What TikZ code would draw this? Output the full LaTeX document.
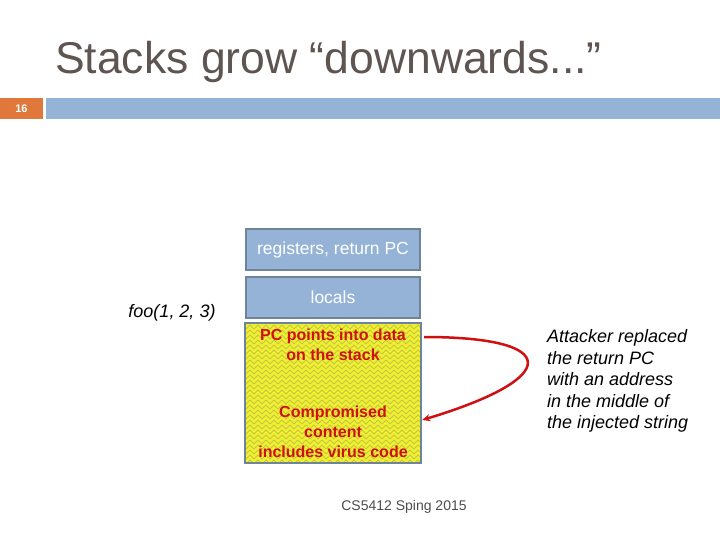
\documentclass[tikz,border=0pt]{standalone}
\usepackage{fontspec}
\setmainfont{Liberation Sans}
\usetikzlibrary{positioning,decorations.pathmorphing,arrows.meta}
\definecolor{slideblue}{HTML}{95B3D7}
\definecolor{boxedge}{HTML}{6E8499}
\definecolor{tagorange}{HTML}{E0783C}
\definecolor{stackyellow}{HTML}{EEF030}
\definecolor{zigline}{HTML}{C6C640}
\definecolor{hackred}{HTML}{D01010}
\definecolor{titlegray}{HTML}{5E5550}
\tikzset{
  frame/.style={draw=boxedge, line width=2.5pt, fill=slideblue, minimum width=174pt, text=white, font=\fontsize{17.5}{20}\selectfont, inner sep=0pt},
  redtxt/.style={text=hackred, font=\bfseries\fontsize{16}{20}\selectfont, align=center},
  note/.style={font=\itshape\fontsize{18}{21.5}\selectfont, align=left}
}
\begin{document}
\begin{tikzpicture}[x=1pt,y=-1pt]
\useasboundingbox (0,0) rectangle (720,540);
\node[anchor=base west, font=\fontsize{44.5}{50}\selectfont, text=titlegray, inner sep=0pt] (title) at (55,74) {Stacks grow “downwards...”};
\fill[tagorange] (0,98) rectangle (43,119);
\node[text=white, font=\bfseries\fontsize{11}{12}\selectfont] (num) at (21.5,108.5) {16};
\fill[slideblue] (46,98) rectangle (720,119);
% the stack frames
\node[frame, minimum height=41pt] (regs) at (333,249.5) {registers, return PC};
\node[frame, minimum height=41pt] (locals) at (333,297.5) {locals};
\begin{scope}
  \clip (245,323) rectangle (421,463);
  \fill[stackyellow] (245,323) rectangle (421,463);
  \foreach \yy in {322,327,...,467}
    \draw[zigline, line width=0.9pt, decorate, decoration={zigzag, segment length=8pt, amplitude=2pt}] (240,\yy) -- (426,\yy);
\end{scope}
\draw[boxedge, line width=2.5pt] (245,323) rectangle (421,463);
\node[inner sep=0pt, minimum width=176pt, minimum height=140pt] (stack) at (333,393) {};
\node[redtxt] (pc) at (333,345) {PC points into data\\on the stack};
\node[redtxt] (virus) at (333,431.5) {Compromised\\content\\includes virus code};
\node[note] (call) at (172,313) {foo(1, 2, 3)};
\node[note, anchor=west, inner sep=0pt] (attack) at (547,381) {Attacker replaced\\the return PC\\with an address\\in the middle of\\the injected string};
\coordinate (from) at ([yshift=56pt]stack.east);
\coordinate (to) at ([yshift=-27pt]stack.east);
\draw[hackred, line width=2.5pt, -{Stealth[length=8pt,width=7pt]}] ([xshift=3pt]from) .. controls (562,337) and (562,378) .. ([xshift=1pt]to);
\node[font=\fontsize{14}{15}\selectfont, text=black!70] (foot) at (404,507) {CS5412 Sping 2015};
\end{tikzpicture}
\end{document}
